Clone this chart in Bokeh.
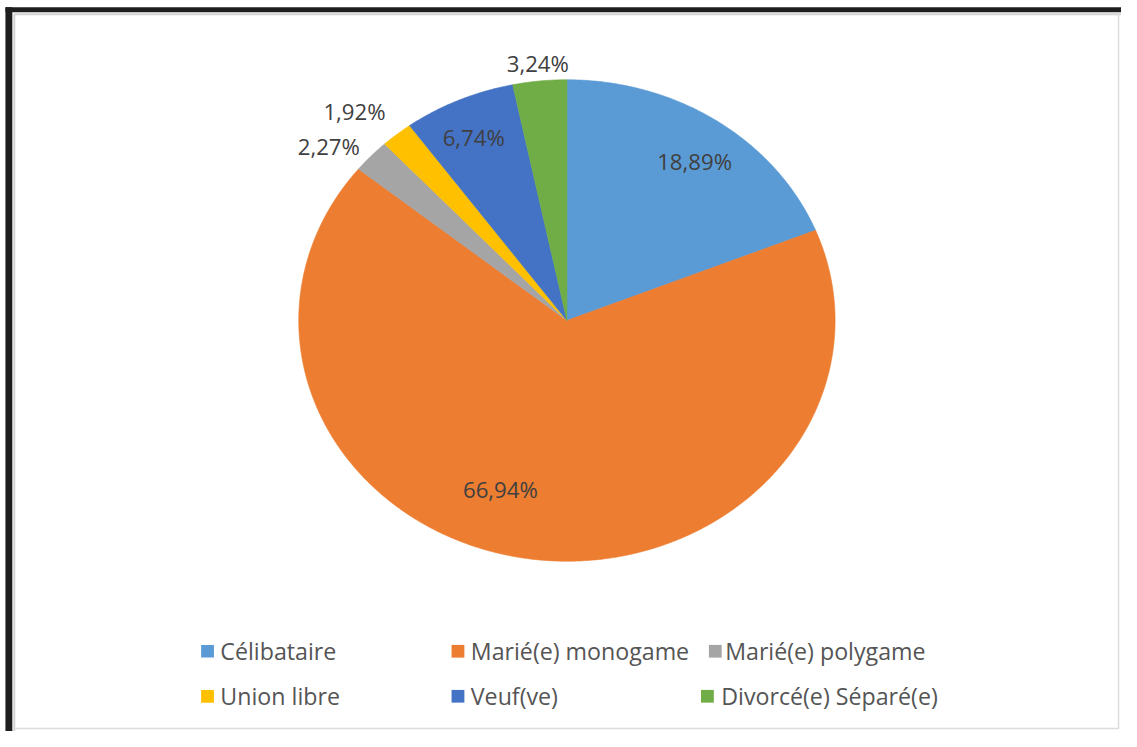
import numpy as np
from bokeh.plotting import figure
from bokeh.models import Range1d
from bokeh.core.properties import value
from bokeh.embed import file_html
from bokeh.resources import INLINE

# ---------------- data ----------------
categories = ["Célibataire", "Marié(e) monogame", "Marié(e) polygame",
              "Union libre", "Veuf(ve)", "Divorcé(e) Séparé(e)"]
percent = [18.89, 66.94, 2.27, 1.92, 6.74, 3.24]

# ---------------- styles / layout ----------------
colors = ["#5B9BD5", "#ED7D31", "#A5A5A5", "#FFC000", "#4472C4", "#70AD47"]
FONT = "Open Sans"
W, H = 1121, 731          # canvas size
RW, RH = 1137, 747        # reference picture size; data units = reference pixels
S = W / RW                # font scale

def Y(py):
    return RH - py

# pie geometry (elliptical, as in the reference)
CX, CY = 574.5, Y(327)
RX, RY = 272, 246

# label anchor positions (reference pixel coords), one per category
label_pos = [(704, 165), (507, 500), (333, 149), (359, 113), (480, 140), (545, 64)]

# legend layout: (square x centre, text x, row y)
legend_pos = [(210, 223, 665), (464, 477, 665), (725, 735, 665),
              (210, 223, 711), (464, 477, 711), (717, 731, 711)]

p = figure(width=W, height=H, output_backend="svg", toolbar_location=None,
           x_range=Range1d(0, RW), y_range=Range1d(0, RH),
           x_axis_type=None, y_axis_type=None, min_border=0,
           outline_line_color=None, background_fill_color="white",
           border_fill_color="white")

# frame decoration: black top / left band, light inner lines
p.quad(left=[5, 5], right=[RW, 12], top=[Y(7), Y(7)], bottom=[Y(12), Y(RH)],
       fill_color="#1e1e1e", line_color=None)
p.line([14, 14, RW], [Y(RH), Y(14), Y(14)], line_color="#d4d4d4", line_width=2)
p.line([1134, 1134, 14], [Y(14), Y(744), Y(744)], line_color="#dcdcdc", line_width=1.5)

# slices, clockwise from 12 o'clock
frac = np.array(percent) / np.sum(percent)
ends = np.cumsum(frac) * 2 * np.pi
starts = ends - frac * 2 * np.pi
xs, ys = [], []
for a0, a1 in zip(starts, ends):
    t = np.linspace(a0, a1, max(4, int((a1 - a0) / np.radians(0.5))))
    xs.append([CX] + list(CX + RX * np.sin(t)))
    ys.append([CY] + list(CY + RY * np.cos(t)))
p.patches(xs, ys, fill_color=colors, line_color=colors, line_width=0.6)

# data labels
lab_text = [f"{v:.2f}".replace(".", ",") + "%" for v in percent]
p.text(x=[q[0] for q in label_pos], y=[Y(q[1]) for q in label_pos], text=lab_text,
       text_font=value(FONT), text_font_size=f"{22.5 * S:.1f}px", text_color="#404040",
       text_align="center", text_baseline="middle")

# legend
p.rect(x=[q[0] for q in legend_pos], y=[Y(q[2]) for q in legend_pos],
       width=13, height=13, fill_color=colors, line_color=None)
p.text(x=[q[1] for q in legend_pos], y=[Y(q[2]) for q in legend_pos], text=categories,
       text_font=value(FONT), text_font_size=f"{23.5 * S:.1f}px", text_color="#555555",
       text_align="left", text_baseline="middle")

open("out.html", "w").write(file_html(p, INLINE))
